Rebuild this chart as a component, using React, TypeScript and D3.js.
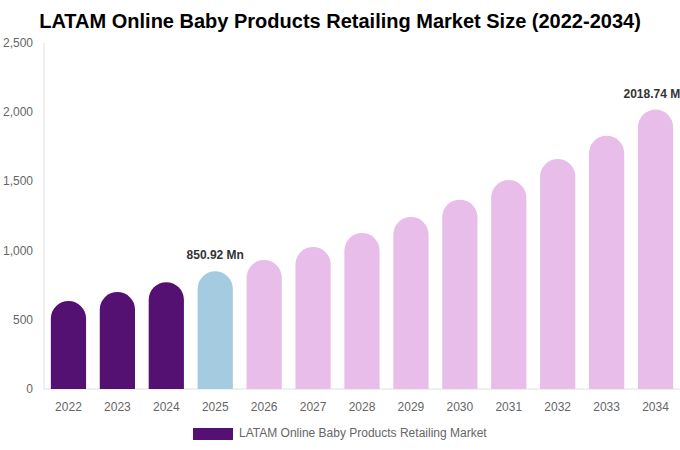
import React from "react";
import * as d3 from "d3";

const years = ["2022","2023","2024","2025","2026","2027","2028","2029","2030","2031","2032","2033","2034"];
const values = [636, 701, 772, 850.92, 932, 1026, 1127, 1243, 1368, 1510, 1662, 1830, 2018.74];
const kinds = ["hist","hist","hist","base","fc","fc","fc","fc","fc","fc","fc","fc","fc"];
const yTicks = [0, 500, 1000, 1500, 2000, 2500];
const labelled: { [k: string]: string } = { "2025": "850.92 Mn", "2034": "2018.74 Mn" };
const title = "LATAM Online Baby Products Retailing Market Size (2022-2034)";
const legendLabel = "LATAM Online Baby Products Retailing Market";

const colors: { [k: string]: string } = { hist: "#541171", base: "#a5cbe0", fc: "#e8bde9" };

export default function App() {
  const W = 680, H = 450;
  const left = 44, right = 680, top = 43, bottom = 389;
  const x = d3.scaleBand<string>().domain(years).range([left, right]).paddingInner(0.28).paddingOuter(0.14);
  const y = d3.scaleLinear().domain([0, 2500]).range([bottom, top]);
  const bw = x.bandwidth();
  const r = bw / 2;
  const barPath = (x0: number, yTop: number) => {
    const p = d3.path();
    p.moveTo(x0, bottom);
    p.lineTo(x0, yTop + r);
    p.arc(x0 + r, yTop + r, r, Math.PI, 0);
    p.lineTo(x0 + bw, bottom);
    p.closePath();
    return p.toString();
  };
  const font = "'Liberation Sans', Arial, sans-serif";
  return (
    <svg width={W} height={H} style={{ position: "absolute", left: 0, top: 0, fontFamily: font }}>
      <rect width={W} height={H} fill="#fff" />
      <text x={340} y={28} textAnchor="middle" fontSize={20} fontWeight="bold" fill="#000">{title}</text>
      <line x1={left} x2={left} y1={top} y2={bottom} stroke="#e0e0e0" />
      <line x1={left} x2={right} y1={bottom} y2={bottom} stroke="#e0e0e0" />
      {yTicks.map(t => (
        <text key={t} x={33} y={y(t) + 4} textAnchor="end" fontSize={12} fill="#666">{d3.format(",")(t)}</text>
      ))}
      {years.map((yr, i) => {
        const x0 = x(yr)!;
        const yt = y(values[i]);
        return (
          <g key={yr}>
            <path d={barPath(x0, yt)} fill={colors[kinds[i]]} />
            <text x={x0 + bw / 2} y={411} textAnchor="middle" fontSize={12} fill="#666">{yr}</text>
            {labelled[yr] && (
              <text x={x0 + bw / 2} y={yt - 12} textAnchor="middle" fontSize={12} fontWeight="bold" fill="#333">{labelled[yr]}</text>
            )}
          </g>
        );
      })}
      <rect x={193} y={428} width={40} height={12} fill={colors.hist} />
      <text x={239} y={437} fontSize={12} fill="#666">{legendLabel}</text>
    </svg>
  );
}
